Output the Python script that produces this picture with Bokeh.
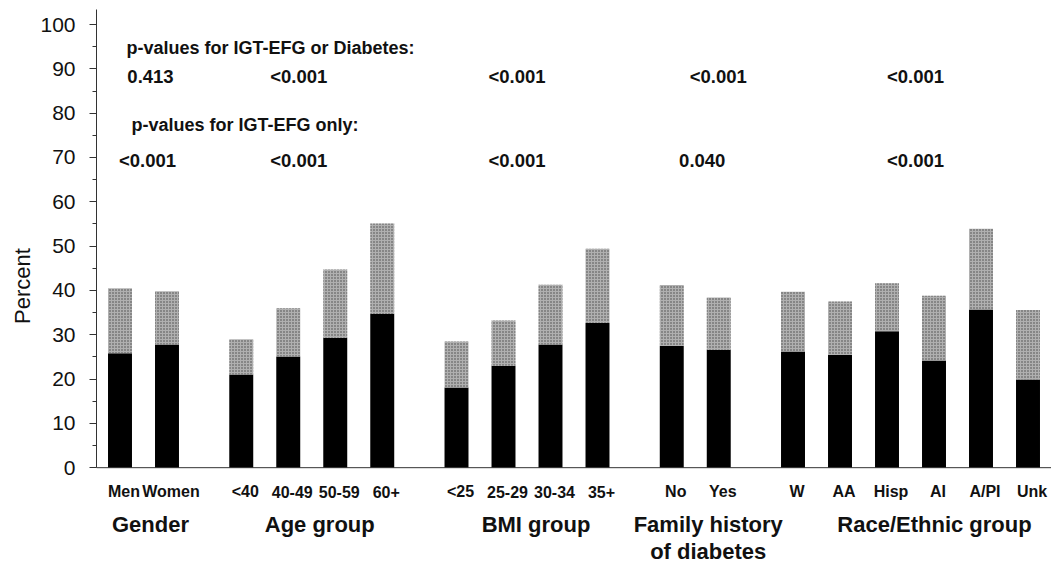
from bokeh.plotting import figure
from bokeh.models import FactorRange, Range1d, ColumnDataSource, FixedTicker, Span
from bokeh.embed import file_html
from bokeh.resources import INLINE
from bokeh.core.properties import value

# ---- data ----
groups = ["Gender", "Age group", "BMI group", "Family history\nof diabetes", "Race/Ethnic group"]
subgroups = [
    ["Men", "Women"],
    ["<40", "40-49", "50-59", "60+"],
    ["<25", "25-29", "30-34", "35+"],
    ["No", "Yes"],
    ["W", "AA", "Hisp", "AI", "A/PI", "Unk"],
]
# black part (IGT-EFG) and stippled part (diabetes) of each bar, percent
igt_efg = [25.8, 27.8, 21.0, 25.1, 29.3, 34.7, 18.1, 23.0, 27.8, 32.7,
           27.5, 26.6, 26.2, 25.5, 30.8, 24.2, 35.7, 19.9]
diabetes = [14.7, 12.0, 8.0, 10.9, 15.4, 20.4, 10.4, 10.2, 13.5, 16.7,
            13.7, 11.8, 13.5, 12.0, 10.8, 14.6, 18.2, 15.7]
p_any = ["0.413", "<0.001", "<0.001", "<0.001", "<0.001"]
p_igt = ["<0.001", "<0.001", "<0.001", "0.040", "<0.001"]
yticks = [0, 10, 20, 30, 40, 50, 60, 70, 80, 90, 100]

FONT = "Liberation Sans"

factors = [(g, s) for g, subs in zip(groups, subgroups) for s in subs]
sub_names = [s for subs in subgroups for s in subs]
src = ColumnDataSource(dict(x=factors, igt=igt_efg, dia=diabetes, name=sub_names))

x_range = FactorRange(*factors, factor_padding=0, group_padding=0.58, range_padding=0)
p = figure(x_range=x_range, y_range=Range1d(-21.4, 103.4), width=1051, height=562,
           output_backend="svg", toolbar_location=None, x_axis_location=None,
           min_border_left=96, min_border_right=0, min_border_top=9, min_border_bottom=0)
p.outline_line_color = None
p.xgrid.visible = False
p.ygrid.visible = False

p.vbar_stack(["igt", "dia"], x="x", width=0.51, source=src,
             fill_color=["black", "#b0b0b0"], line_color=None,
             hatch_pattern=[" ", "dot"], hatch_color="#444444",
             hatch_scale=3, hatch_weight=1.2)

# baseline (x axis line)
p.add_layout(Span(location=0, dimension="width", line_color="#333", line_width=1))

bold = dict(text_font=value(FONT), text_font_style="bold", text_color="#111")

# category labels under each bar
p.text(x="x", y=-5.4, text="name", source=src, x_offset=4,
       text_font_size="16px", text_align="center", text_baseline="middle", **bold)

# group names under the category labels
gsrc = ColumnDataSource(dict(x=groups, text=groups, dx=[7, 8, 9, 13, 24]))
p.text(x="x", y=-10.0, text="text", x_offset="dx", source=gsrc,
       text_font_size="22px", text_align="center", text_baseline="top",
       text_line_height=1.1, **bold)

# p-value annotations
psrc = ColumnDataSource(dict(x=groups, any=p_any, igt=p_igt,
                             dx1=[7, -13, -10, 23, 5], dx2=[4, -13, -10, 7, 5]))
p.text(x=[factors[0]], y=[94.8], text=["p-values for IGT-EFG or Diabetes:"],
       text_font_size="18px", text_align="left", text_baseline="middle", x_offset=6.5, **bold)
p.text(x="x", y=88.2, text="any", x_offset="dx1", source=psrc,
       text_font_size="18.5px", text_align="center", text_baseline="middle", **bold)
p.text(x=[factors[0]], y=[77.4], text=["p-values for IGT-EFG only:"],
       text_font_size="18px", text_align="left", text_baseline="middle", x_offset=11.5, **bold)
p.text(x="x", y=69.3, text="igt", x_offset="dx2", source=psrc,
       text_font_size="18.5px", text_align="center", text_baseline="middle", **bold)

# y axis
ya = p.yaxis[0]
ya.bounds = (0, 103.4)
ya.ticker = FixedTicker(ticks=yticks, minor_ticks=list(range(0, 101, 5)))
ya.axis_label = "Percent"
ya.axis_label_text_font = FONT
ya.axis_label_text_font_size = "22px"
ya.axis_label_text_font_style = "normal"
ya.axis_label_text_color = "#111"
ya.axis_label_standoff = 2
ya.major_label_text_font = FONT
ya.major_label_text_font_size = "21px"
ya.major_label_text_color = "#111"
ya.major_label_standoff = 14
ya.major_tick_in = 0
ya.major_tick_out = 7
ya.minor_tick_in = 0
ya.minor_tick_out = 4
ya.axis_line_color = "#333"
ya.major_tick_line_color = "#333"
ya.minor_tick_line_color = "#333"

open("out.html", "w").write(file_html(p, INLINE))
